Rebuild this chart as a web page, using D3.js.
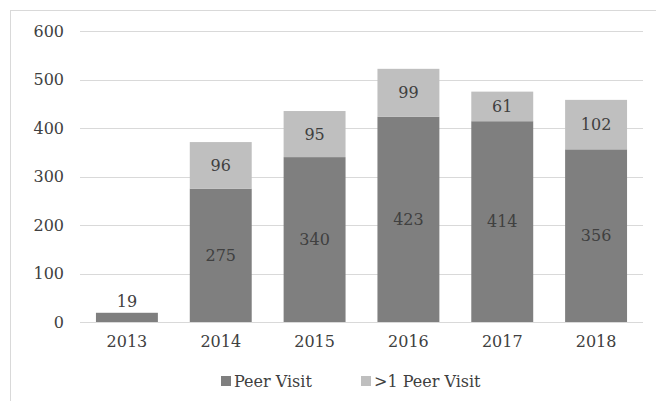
<!DOCTYPE html>
<html>
<head>
    <meta charset='utf-8'>
    <title>Peer Visits</title>
    <style type="text/css">
        body { margin: 0; background: #fff; }
        svg text { fill: #404040; }
        .grid line { stroke: #d9d9d9; stroke-width: 1; }
    </style>
</head>
<body>
    <script src="https://cdn.jsdelivr.net/npm/d3@7"></script>

    <div id="svgContainer"></div>

    <script type="text/javascript">

        const years = ["2013", "2014", "2015", "2016", "2017", "2018"];
        const peerVisit = [19, 275, 340, 423, 414, 356];
        const multiVisit = [0, 96, 95, 99, 61, 102];
        const seriesNames = ["Peer Visit", ">1 Peer Visit"];
        const yTicks = [0, 100, 200, 300, 400, 500, 600];

        const width = 656;
        const height = 401;
        const fontFamily = "'DejaVu Serif', serif";
        const fontSize = "16px";

        const svg = d3.select("#svgContainer").append("svg")
            .attr("width", width)
            .attr("height", height)
            .attr("font-family", fontFamily);

        // chart frame
        svg.append("rect")
            .attr("x", 10.5).attr("y", 10.5)
            .attr("width", width).attr("height", height)
            .attr("fill", "none")
            .attr("stroke", "#d9d9d9");

        const x = d3.scaleBand()
            .domain(years)
            .range([80, 643])
            .paddingInner(0.34)
            .paddingOuter(0.17);

        const y = d3.scaleLinear()
            .domain([0, 600])
            .range([322, 31]);

        const colors = ["#7f7f7f", "#bfbfbf"];

        // gridlines
        svg.append("g")
            .attr("class", "grid")
            .selectAll("line")
            .data(yTicks)
            .join("line")
            .attr("x1", 80).attr("x2", 643)
            .attr("y1", d => Math.round(y(d)) + 0.5)
            .attr("y2", d => Math.round(y(d)) + 0.5);

        // y axis labels
        const yAxis = d3.axisLeft(y).tickValues(yTicks).tickSize(0).tickPadding(0);
        svg.append("g")
            .attr("transform", "translate(64,0)")
            .call(yAxis)
            .attr("font-family", fontFamily)
            .attr("font-size", fontSize)
            .call(g => g.select(".domain").remove());

        // x axis labels
        const xAxis = d3.axisBottom(x).tickSize(0).tickPadding(0);
        svg.append("g")
            .attr("transform", "translate(0,336)")
            .call(xAxis)
            .attr("font-family", fontFamily)
            .attr("font-size", fontSize)
            .call(g => g.select(".domain").remove());

        // stacked bars
        const data = years.map((yr, i) => ({ year: yr, a: peerVisit[i], b: multiVisit[i] }));
        const stacked = d3.stack().keys(["a", "b"])(data);

        const layer = svg.append("g")
            .selectAll("g")
            .data(stacked)
            .join("g")
            .attr("fill", (d, i) => colors[i]);

        layer.selectAll("rect")
            .data(d => d)
            .join("rect")
            .attr("x", d => x(d.data.year))
            .attr("width", x.bandwidth())
            .attr("y", d => y(d[1]))
            .attr("height", d => y(d[0]) - y(d[1]));

        // value labels
        const labels = svg.append("g")
            .attr("font-size", fontSize)
            .attr("text-anchor", "middle");
        stacked.forEach(s => {
            s.forEach(d => {
                const v = d[1] - d[0];
                if (v <= 0) return;
                const small = y(d[0]) - y(d[1]) < 25;
                labels.append("text")
                    .attr("x", x(d.data.year) + x.bandwidth() / 2)
                    .attr("y", small ? y(d[1]) - 6 : (y(d[0]) + y(d[1])) / 2)
                    .attr("dy", small ? 0 : "0.35em")
                    .text(v);
            });
        });

        // legend
        const legendX = [221, 361];
        const legend = svg.append("g")
            .selectAll("g")
            .data(seriesNames)
            .join("g")
            .attr("transform", (d, i) => `translate(${legendX[i]},381)`);

        legend.append("rect")
            .attr("x", 0).attr("y", -5)
            .attr("width", 10).attr("height", 10)
            .attr("fill", (d, i) => colors[i]);

        legend.append("text")
            .attr("x", 13)
            .attr("dy", "0.35em")
            .attr("font-size", fontSize)
            .text(d => d);

    </script>
</body>
</html>
